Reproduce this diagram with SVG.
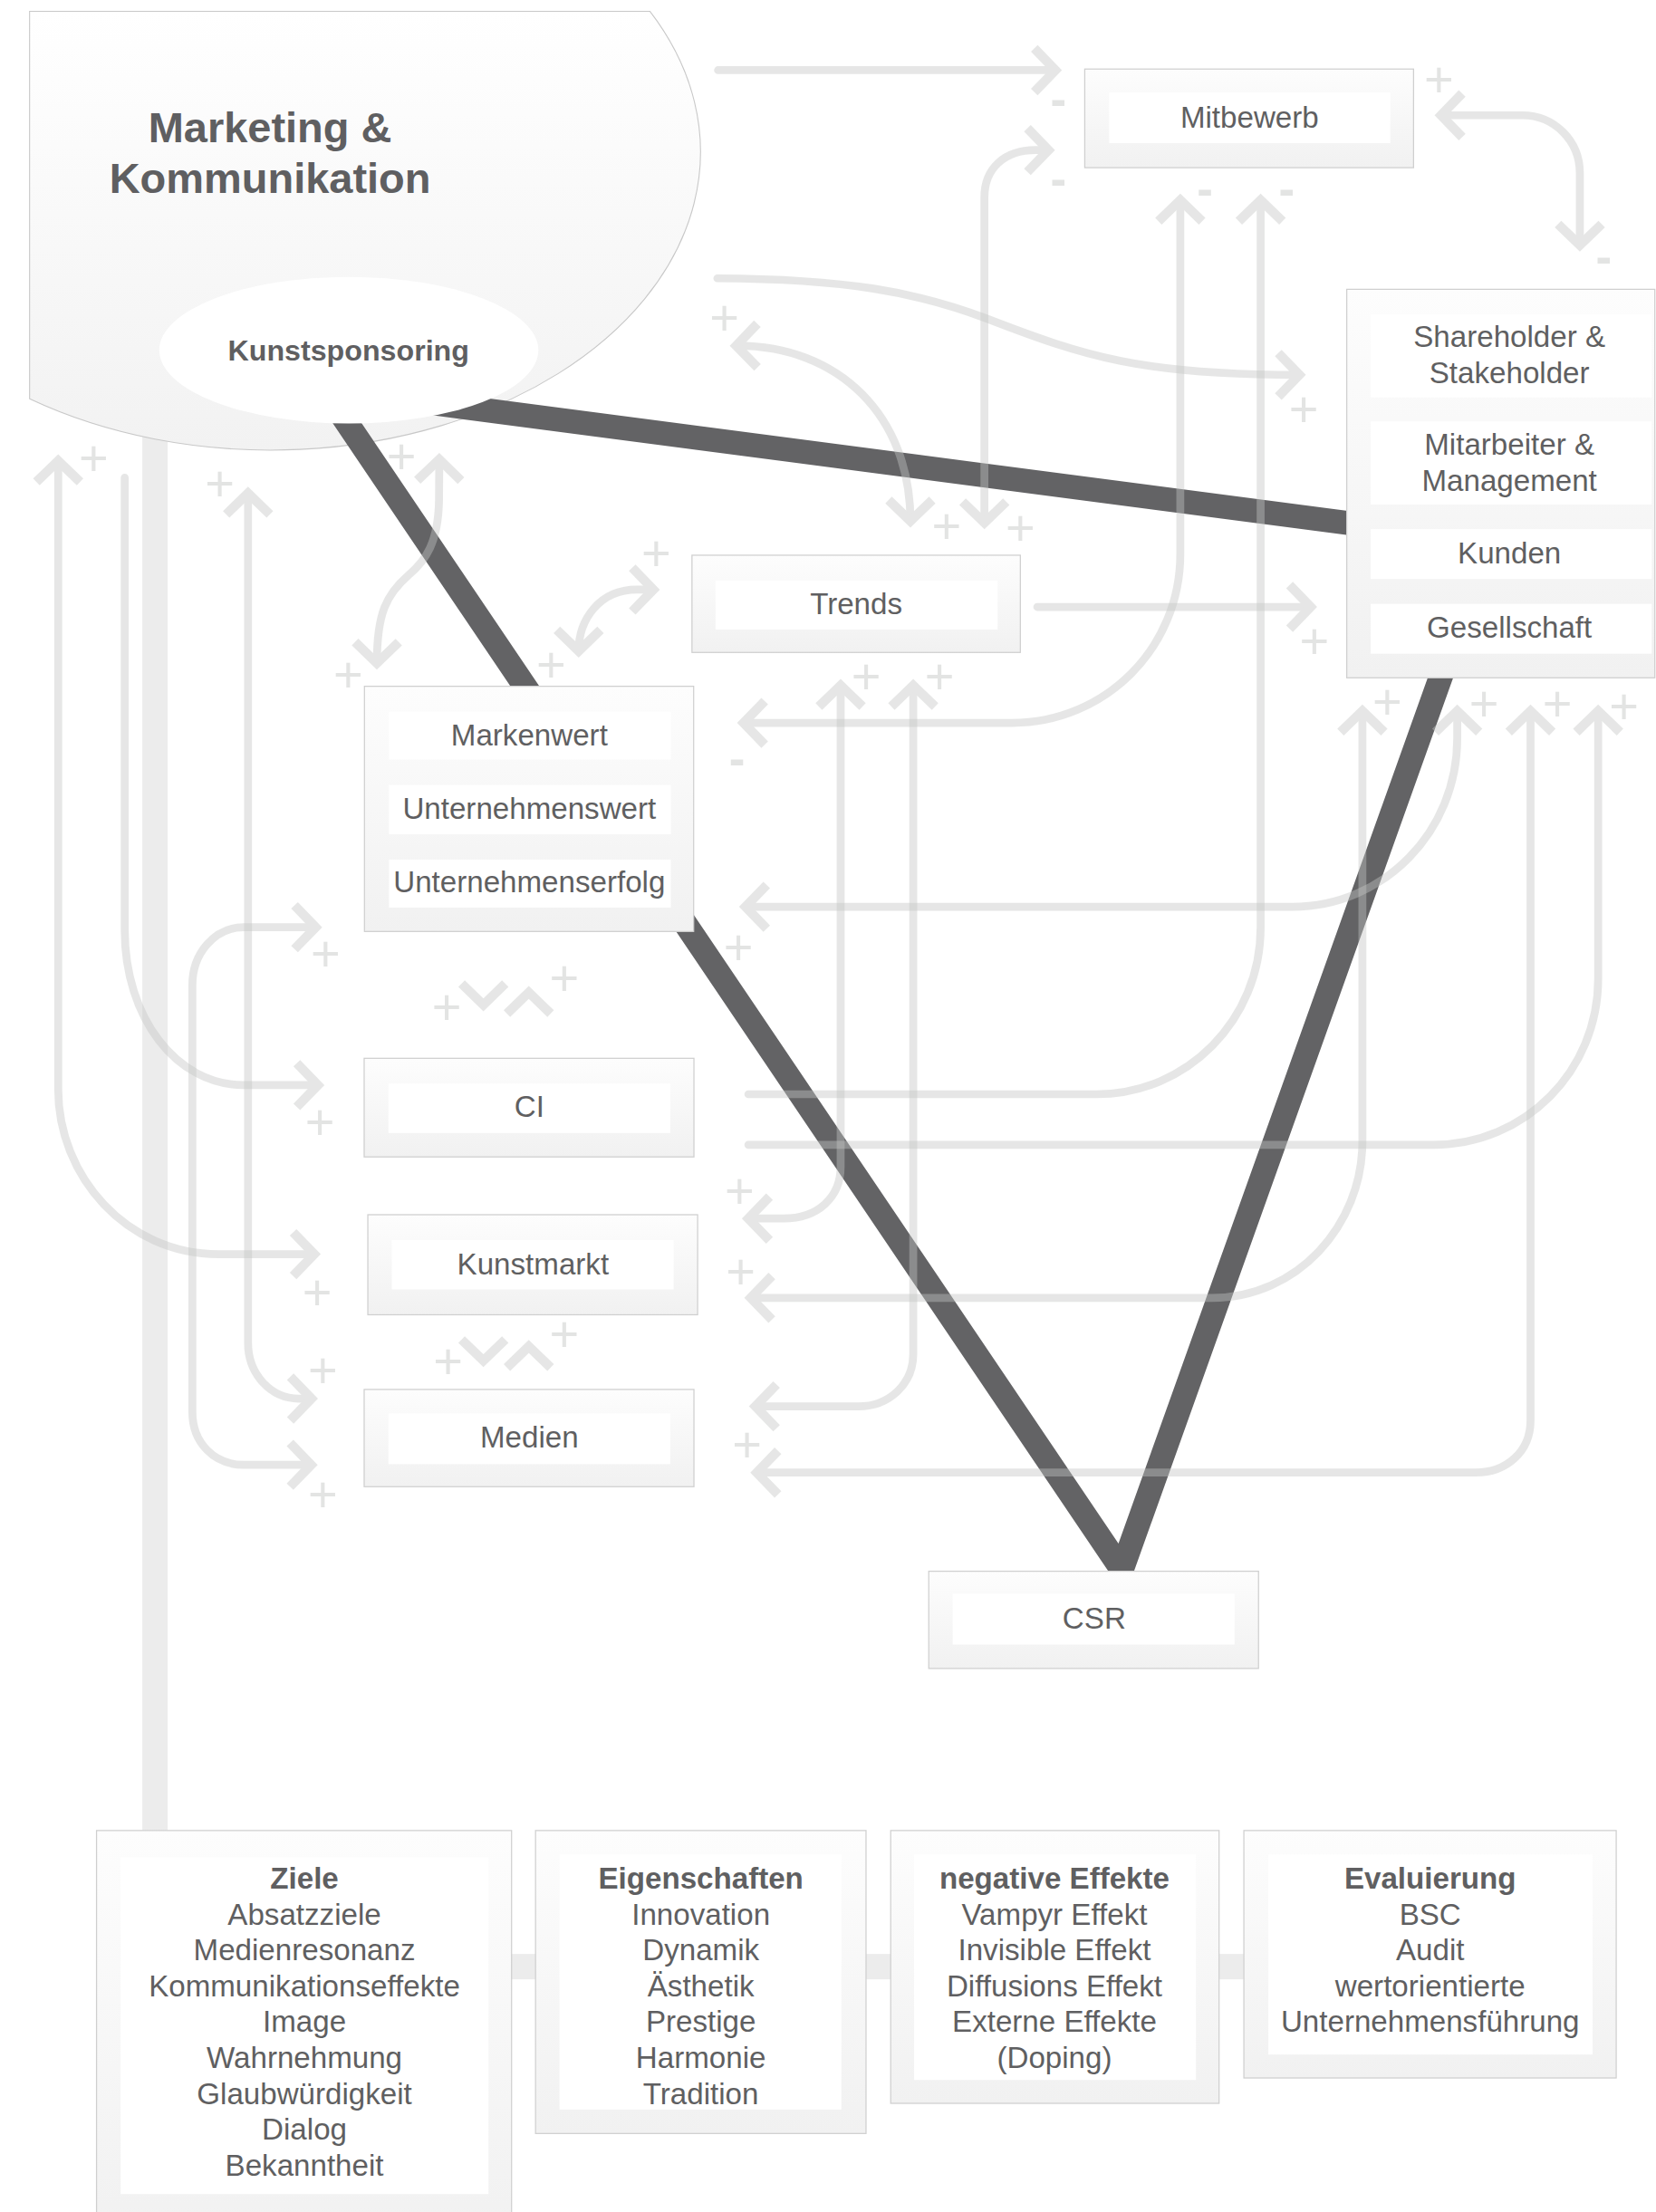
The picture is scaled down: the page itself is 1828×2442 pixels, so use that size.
<svg xmlns="http://www.w3.org/2000/svg" width="1828" height="2442" viewBox="0 0 1828 2442">
<defs>
<linearGradient id="gBox" x1="0" y1="0" x2="0" y2="1"><stop offset="0" stop-color="#fdfdfd"/><stop offset="1" stop-color="#f1f1f1"/></linearGradient>
<linearGradient id="gMK" x1="0" y1="0" x2="0" y2="1"><stop offset="0" stop-color="#ffffff"/><stop offset="1" stop-color="#f2f2f2"/></linearGradient>
<marker id="ar" markerUnits="userSpaceOnUse" viewBox="-20 -20 30 40" refX="0" refY="0" markerWidth="30" markerHeight="40" orient="auto-start-reverse" overflow="visible"><path d="M-15,-15.5 L0,0 L-15,15.5" fill="none" stroke="#c4c6c4" stroke-width="6.6" stroke-linejoin="miter"/></marker>
<style>
.box{fill:url(#gBox);stroke:#cfcfcf;stroke-width:0.8}
.in{fill:#ffffff}
.t{font-family:"Liberation Sans",Arial,Helvetica,sans-serif;fill:#5f5f61;font-size:21.3px;text-anchor:middle}
.b{font-weight:bold}
.title{font-size:30.2px;font-weight:bold}
.dk{fill:none;stroke:#636365;stroke-width:17;stroke-linejoin:miter}
.bar{fill:#ececec}
.cn{opacity:0.42}
.cn path{fill:none;stroke:#c4c6c4;stroke-width:5.6;stroke-linecap:round}
.cn path.ch{stroke-width:6.6;stroke-linecap:butt;stroke-linejoin:miter}
.pm{font-family:"Liberation Sans",Arial,sans-serif;fill:#e3e4e3;font-size:36px;text-anchor:middle}
.mi{font-weight:bold;font-size:34px}
</style>
</defs>
<rect width="1828" height="2442" fill="#ffffff"/>
<g transform="scale(1.5557)">

<g id="link-bars">
<rect class="bar" x="101" y="300" width="18" height="1000"/>
<rect class="bar" x="360" y="1386.6" width="525" height="18"/>
</g>

<g id="node-marketing">
<path d="M21,8 L461.1,8 A305,211.7 0 0 1 21,283 Z" fill="url(#gMK)" stroke="#c8c8c8" stroke-width="0.7"/>
<text class="t title" x="191.6" y="100.7">Marketing &amp;</text>
<text class="t title" x="191.6" y="136.7">Kommunikation</text>
</g>

<g id="links-main">
<path class="dk" d="M236,285 L796,1114 L1026,470"/>
<path class="dk" d="M300,285.2 L965,372.3"/>
</g>

<g id="node-kunstsponsoring">
<ellipse cx="247.5" cy="248.5" rx="134.5" ry="52" fill="#ffffff"/>
<text class="t b" x="247.3" y="256" style="font-size:20.7px">Kunstsponsoring</text>
</g>

<g id="node-mitbewerb">
<rect class="box" x="769.7" y="49" width="233.3" height="70"/>
<rect class="in" x="787" y="65.6" width="199.5" height="36"/>
<text class="t" x="886.6" y="90.8">Mitbewerb</text>
</g>

<g id="node-stakeholder">
<rect class="box" x="955.6" y="205.3" width="218.6" height="275.7"/>
<rect class="in" x="972.6" y="223" width="199.4" height="59"/>
<rect class="in" x="972.6" y="299" width="199.4" height="59"/>
<rect class="in" x="972.6" y="375.5" width="199.4" height="35.4"/>
<rect class="in" x="972.6" y="428.5" width="199.4" height="35.4"/>
<text class="t" x="1071" y="246">Shareholder &amp;</text>
<text class="t" x="1071" y="272">Stakeholder</text>
<text class="t" x="1071" y="322.9">Mitarbeiter &amp;</text>
<text class="t" x="1071" y="348.6">Management</text>
<text class="t" x="1071" y="399.6">Kunden</text>
<text class="t" x="1071" y="452.5">Gesellschaft</text>
</g>

<g id="node-trends">
<rect class="box" x="491" y="394" width="233" height="69"/>
<rect class="in" x="507.7" y="411.9" width="200.2" height="34.8"/>
<text class="t" x="607.5" y="435.5">Trends</text>
</g>

<g id="node-markenwert">
<rect class="box" x="258.6" y="487" width="233.6" height="174"/>
<rect class="in" x="276" y="505" width="200" height="34"/>
<rect class="in" x="276" y="557" width="200" height="35"/>
<rect class="in" x="276" y="610" width="200" height="34"/>
<text class="t" x="375.6" y="528.9">Markenwert</text>
<text class="t" x="375.6" y="581.4">Unternehmenswert</text>
<text class="t" x="375.6" y="633">Unternehmenserfolg</text>
</g>

<g id="node-ci">
<rect class="box" x="258.4" y="751" width="234" height="70"/>
<rect class="in" x="275.6" y="769" width="200" height="35"/>
<text class="t" x="375.6" y="792.4">CI</text>
</g>

<g id="node-kunstmarkt">
<rect class="box" x="261" y="862" width="234" height="71"/>
<rect class="in" x="278" y="880" width="200" height="35"/>
<text class="t" x="378.2" y="904.6">Kunstmarkt</text>
</g>

<g id="node-medien">
<rect class="box" x="258.4" y="986" width="234" height="69"/>
<rect class="in" x="275.6" y="1003" width="200" height="36"/>
<text class="t" x="375.6" y="1027.4">Medien</text>
</g>

<g id="node-csr">
<rect class="box" x="659" y="1115" width="234" height="69"/>
<rect class="in" x="676" y="1131" width="200" height="36"/>
<text class="t" x="776.4" y="1155.8">CSR</text>
</g>

<g id="node-ziele">
<rect class="box" x="68.5" y="1299" width="294.5" height="290"/>
<rect class="in" x="85.6" y="1318" width="261" height="239"/>
<text class="t" x="216" y="1340.2"><tspan class="b">Ziele</tspan><tspan x="216" dy="25.45">Absatzziele</tspan><tspan x="216" dy="25.45">Medienresonanz</tspan><tspan x="216" dy="25.45">Kommunikationseffekte</tspan><tspan x="216" dy="25.45">Image</tspan><tspan x="216" dy="25.45">Wahrnehmung</tspan><tspan x="216" dy="25.45">Glaubwürdigkeit</tspan><tspan x="216" dy="25.45">Dialog</tspan><tspan x="216" dy="25.45">Bekanntheit</tspan></text>
</g>

<g id="node-eigenschaften">
<rect class="box" x="380" y="1299" width="234.5" height="215"/>
<rect class="in" x="397" y="1316" width="200" height="181"/>
<text class="t" x="497.3" y="1340.2"><tspan class="b">Eigenschaften</tspan><tspan x="497.3" dy="25.45">Innovation</tspan><tspan x="497.3" dy="25.45">Dynamik</tspan><tspan x="497.3" dy="25.45">Ästhetik</tspan><tspan x="497.3" dy="25.45">Prestige</tspan><tspan x="497.3" dy="25.45">Harmonie</tspan><tspan x="497.3" dy="25.45">Tradition</tspan></text>
</g>

<g id="node-negative-effekte">
<rect class="box" x="632" y="1299" width="233" height="193.6"/>
<rect class="in" x="648.6" y="1316" width="200" height="160"/>
<text class="t" x="748.2" y="1340.2"><tspan class="b">negative Effekte</tspan><tspan x="748.2" dy="25.45">Vampyr Effekt</tspan><tspan x="748.2" dy="25.45">Invisible Effekt</tspan><tspan x="748.2" dy="25.45">Diffusions Effekt</tspan><tspan x="748.2" dy="25.45">Externe Effekte</tspan><tspan x="748.2" dy="25.45">(Doping)</tspan></text>
</g>

<g id="node-evaluierung">
<rect class="box" x="882.6" y="1299" width="264.2" height="175.6"/>
<rect class="in" x="900" y="1316" width="230" height="142"/>
<text class="t" x="1014.8" y="1340.2"><tspan class="b">Evaluierung</tspan><tspan x="1014.8" dy="25.45">BSC</tspan><tspan x="1014.8" dy="25.45">Audit</tspan><tspan x="1014.8" dy="25.45">wertorientierte</tspan><tspan x="1014.8" dy="25.45">Unternehmensführung</tspan></text>
</g>

<g id="connectors">
<g class="cn"><path d="M509.5,49.8 H748.9" marker-end="url(#ar)"/></g>
<g class="cn"><path d="M698.5,371 V140 C698.5,120 712,106.5 735,106.5 H744" marker-start="url(#ar)" marker-end="url(#ar)"/></g>
<g class="cn"><path d="M522.4,245.3 C595,245 646,295 646,369.8" marker-start="url(#ar)" marker-end="url(#ar)"/></g>
<g class="cn"><path d="M509,197.5 C600,198 650,207 700,226 C770,253 810,266 922,266" marker-end="url(#ar)"/></g>
<g class="cn"><path d="M1022.5,81.8 H1080 C1103,81.8 1121,100 1121,123 V174" marker-start="url(#ar)" marker-end="url(#ar)"/></g>
<g class="cn"><path d="M527.6,513 H718 C784,513 837.5,460 837.5,393 V142" marker-start="url(#ar)" marker-end="url(#ar)"/></g>
<g class="cn"><path d="M531,776.5 H778 C842,776.5 894.5,724 894.5,658 V142" marker-end="url(#ar)"/></g>
<g class="cn"><path d="M736,430.7 H930" marker-end="url(#ar)"/></g>
<g class="cn"><path d="M529,643.5 H917 C982,643.5 1034,590 1034,524 V504.5" marker-start="url(#ar)" marker-end="url(#ar)"/></g>
<g class="cn"><path d="M532.7,921 H860 C920,921 966.7,870 966.7,810 V504.5" marker-start="url(#ar)" marker-end="url(#ar)"/></g>
<g class="cn"><path d="M537,1045 H1047 C1069,1045 1086,1030 1086,1008 V504.5" marker-start="url(#ar)" marker-end="url(#ar)"/></g>
<g class="cn"><path d="M531,812.4 H1017 C1082,812.4 1134,760 1134,694.6 V504.5" marker-end="url(#ar)"/></g>
<g class="cn"><path d="M531,864.7 H556 C580,864.7 596.5,850 596.5,828 V486.4" marker-start="url(#ar)" marker-end="url(#ar)"/></g>
<g class="cn"><path d="M536,998 H609 C631,998 648,982 648,961 V486.4" marker-start="url(#ar)" marker-end="url(#ar)"/></g>
<g class="cn"><path d="M223,890 H155 C90,890 41.3,835 41.3,773 V327" marker-start="url(#ar)" marker-end="url(#ar)"/></g>
<g class="cn"><path d="M88.5,339 V660 C88.5,722 125,770 173,770 H225.6" marker-end="url(#ar)"/></g>
<g class="cn"><path d="M176,350 V953 C176,975 192,992.5 212,992.5 H221" marker-start="url(#ar)" marker-end="url(#ar)"/></g>
<g class="cn"><path d="M224,658 H173 C152,658 136.5,677 136.5,699 V1002 C136.5,1024 152,1039.5 173,1039.5 H220.8" marker-start="url(#ar)" marker-end="url(#ar)"/></g>
<g class="cn"><path d="M311.7,326 L311.5,355 C311,385 302,398 290,408 C274,422 267.5,435 267.4,470.6" marker-start="url(#ar)" marker-end="url(#ar)"/></g>
<g class="cn"><path d="M410.6,462 C410.6,440 425,418.4 452,418.4 H463.6" marker-start="url(#ar)" marker-end="url(#ar)"/></g>
<g class="cn"><path class="ch" d="M327.5,698 L343,713.1 L358.5,698"/><path class="ch" d="M359.7,719.3 L375.2,704.3 L390.7,719.3"/></g>
<g class="cn"><path class="ch" d="M327.5,950.6 L343,965.6 L358.5,950.6"/><path class="ch" d="M359.7,970.5 L375.2,955.5 L390.7,970.5"/></g>

<g id="signs">
<text class="pm mi" x="751" y="82.4">-</text>
<text class="pm mi" x="751" y="138.9">-</text>
<text class="pm mi" x="1138" y="194.2">-</text>
<text class="pm mi" x="523" y="550.2">-</text>
<text class="pm mi" x="855" y="145.6">-</text>
<text class="pm mi" x="913" y="145.6">-</text>
<text class="pm" x="724" y="386.7">+</text>
<text class="pm" x="514" y="237.7">+</text>
<text class="pm" x="671.7" y="385.5">+</text>
<text class="pm" x="925" y="302.7">+</text>
<text class="pm" x="1021" y="68.7">+</text>
<text class="pm" x="932.6" y="467.3">+</text>
<text class="pm" x="524" y="684.3">+</text>
<text class="pm" x="1053" y="511.7">+</text>
<text class="pm" x="525.6" y="914.6">+</text>
<text class="pm" x="984.4" y="510.7">+</text>
<text class="pm" x="530" y="1037.7">+</text>
<text class="pm" x="1105" y="511.7">+</text>
<text class="pm" x="1152.3" y="513.7">+</text>
<text class="pm" x="524.8" y="857.7">+</text>
<text class="pm" x="614.5" y="492.3">+</text>
<text class="pm" x="666.6" y="492.3">+</text>
<text class="pm" x="66.5" y="337.7">+</text>
<text class="pm" x="225" y="929.7">+</text>
<text class="pm" x="227" y="808.7">+</text>
<text class="pm" x="156" y="355.4">+</text>
<text class="pm" x="229" y="984.7">+</text>
<text class="pm" x="231" y="689.3">+</text>
<text class="pm" x="229" y="1072.7">+</text>
<text class="pm" x="284.9" y="336.3">+</text>
<text class="pm" x="247" y="491.2">+</text>
<text class="pm" x="391" y="484.1">+</text>
<text class="pm" x="465.6" y="404.7">+</text>
<text class="pm" x="317" y="726.7">+</text>
<text class="pm" x="400.3" y="706.5">+</text>
<text class="pm" x="318" y="978.4">+</text>
<text class="pm" x="400.3" y="959.3">+</text>
</g>
</g>

</g>
</svg>
